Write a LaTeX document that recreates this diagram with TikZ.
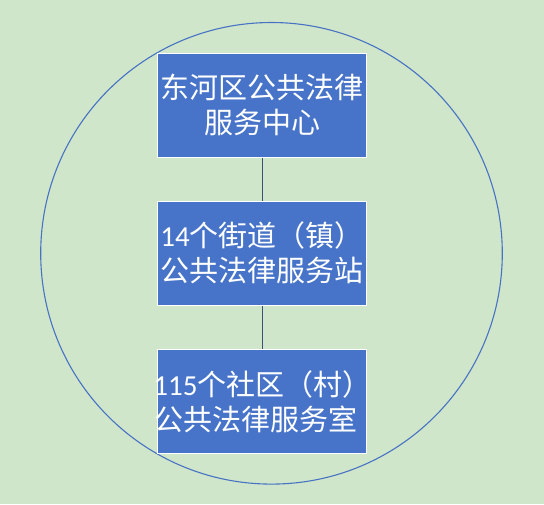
\documentclass[tikz,border=0pt]{standalone}
\usepackage{fontspec}
\setmainfont{Noto Sans CJK SC}
\newfontfamily\digitfont{Carlito}
\definecolor{bggreen}{RGB}{207,230,202}
\definecolor{boxblue}{RGB}{71,116,201}
\definecolor{ringblue}{RGB}{72,114,196}
\definecolor{linkgray}{RGB}{60,80,120}
\newcommand{\dg}[1]{{\digitfont\fontsize{29}{35}\selectfont #1}}
\begin{document}
\begin{tikzpicture}[x=1pt,y=-1pt,
  unitbox/.style={draw=white,line width=1.3pt,fill=boxblue,minimum width=209.4pt,minimum height=104pt,inner sep=0pt},
  unittext/.style={inner sep=0pt,text=white,align=center,font=\fontsize{29}{35}\selectfont},
  link/.style={draw=linkgray,line width=0.9pt}]
\fill[bggreen] (0,0) rectangle (544,504);
\useasboundingbox (0,0) rectangle (544,504);
\draw[ringblue,line width=1.1pt] (271.5,253.3) circle (230.8);
\node[unitbox] (center) at (262,105.3) {};
\node[unitbox] (station) at (262,253.5) {};
\node[unitbox] (room) at (262,401.3) {};
\node[unittext] (centertext) at (262,105.3) {东河区公共法律\\服务中心};
\node[unittext] (stationtext) at (262,252.5) {\dg{14}个街道（镇）\\公共法律服务站};
\node[unittext] (roomtext) at (262.5,401.3) {\dg{115}个社区（村）\\公共法律服务室\rule{13pt}{0pt}};
\draw[link] (center.south) -- (station.north);
\draw[link] (station.south) -- (room.north);
\end{tikzpicture}
\end{document}
